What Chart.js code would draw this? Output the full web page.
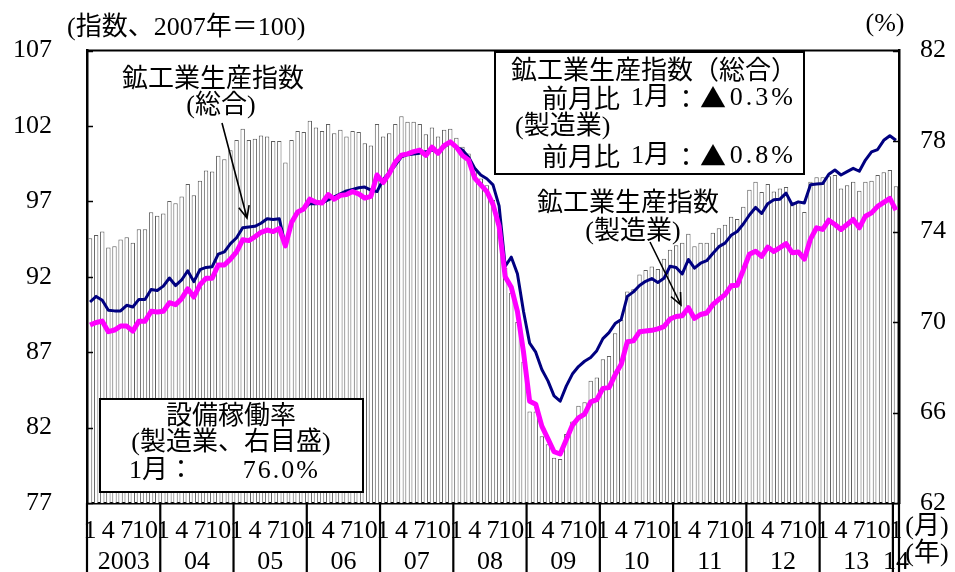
<!DOCTYPE html>
<html lang="ja">
<head>
<meta charset="utf-8">
<title>鉱工業生産指数と設備稼働率</title>
<script src="https://cdn.jsdelivr.net/npm/chart.js@4/dist/chart.umd.min.js"></script>
<style>
html, body { margin: 0; padding: 0; background: #fff; }
#wrap { position: relative; width: 955px; height: 572px; }
canvas { display: block; }
</style>
</head>
<body>
<div id="wrap"><canvas id="c" width="955" height="572"></canvas></div>
<script>
// Year cells under the axis and the months that get a tick label
const years = ['2003', '04', '05', '06', '07', '08', '09', '10', '11', '12', '13', '14'];
const monthTicks = [1, 4, 7, 10];
const leftTicks = [77, 82, 87, 92, 97, 102, 107];
const rightTicks = [62, 66, 70, 74, 78, 82];

// 鉱工業生産指数（総合） 2007年=100, monthly from 2003/1 to 2014/1
const totalIndex = [
  90.33, 90.70, 90.44, 89.78, 89.74, 89.74, 90.11, 90.00, 90.50, 90.50, 91.16, 91.09,
  91.38, 91.92, 91.42, 91.79, 92.40, 91.68, 92.47, 92.62, 92.67, 93.50, 93.65, 94.20,
  94.59, 95.25, 95.30, 95.35, 95.55, 95.85, 95.80, 95.85, 94.05, 95.65, 96.30, 96.55,
  96.85, 96.85, 96.90, 97.10, 97.30, 97.50, 97.70, 97.80, 97.90, 97.95, 97.75, 97.65,
  98.45, 98.90, 99.40, 99.95, 100.10, 100.15, 100.20, 100.30, 100.40, 100.30, 100.60, 100.90,
  100.60, 100.40, 99.95, 99.20, 98.75, 98.50, 98.10, 96.70, 92.70, 93.30, 92.20, 89.70,
  87.60, 87.00, 85.85, 85.10, 84.10, 83.75, 84.75, 85.55, 86.05, 86.40, 86.65, 87.10,
  87.90, 88.30, 88.90, 89.17, 90.70, 91.00, 91.42, 91.70, 91.88, 91.62, 91.90, 92.70,
  92.62, 92.19, 93.15, 92.57, 92.90, 93.07, 93.55, 94.00, 94.23, 94.75, 95.00, 95.50,
  96.10, 96.60, 96.20, 96.85, 97.11, 97.15, 97.55, 96.78, 96.97, 96.89, 98.10, 98.15,
  98.18, 98.80, 99.08, 98.75, 98.97, 99.19, 99.00, 99.74, 100.28, 100.44, 101.05, 101.35,
  101.05
];

// 鉱工業生産指数（製造業） 2007年=100
const mfgIndex = [
  88.80, 88.97, 89.06, 88.36, 88.47, 88.73, 88.73, 88.40, 89.06, 89.06, 89.71, 89.67,
  89.71, 90.28, 90.15, 90.55, 91.20, 90.66, 91.47, 91.90, 91.90, 92.78, 92.78, 93.17,
  93.65, 94.45, 94.40, 94.65, 94.95, 95.10, 95.00, 95.20, 94.05, 95.60, 96.30, 96.50,
  97.15, 96.95, 96.90, 97.45, 97.15, 97.40, 97.45, 97.65, 97.50, 97.22, 97.33, 98.75,
  98.25, 98.85, 99.60, 100.07, 100.15, 100.30, 100.40, 100.05, 100.60, 100.20, 100.70, 100.95,
  100.60, 100.05, 99.75, 98.55, 98.10, 97.65, 96.80, 95.35, 92.00, 91.30, 89.70, 87.00,
  83.75, 83.55, 82.10, 81.25, 80.40, 80.25, 81.20, 82.15, 82.65, 82.90, 83.70, 83.85,
  84.60, 84.65, 85.50, 86.20, 87.70, 87.75, 88.35, 88.40, 88.45, 88.55, 88.70, 89.20,
  89.37, 89.42, 89.95, 89.24, 89.50, 89.60, 90.15, 90.50, 90.82, 91.40, 91.44, 92.45,
  93.50, 93.70, 93.35, 93.97, 93.68, 93.94, 94.20, 93.60, 93.65, 93.17, 94.50, 95.25,
  95.14, 95.75, 95.47, 95.14, 95.47, 95.80, 95.25, 96.02, 96.24, 96.67, 96.94, 97.20,
  96.42
];

// 設備稼働率（製造業、%）
const utilization = [
  73.70, 73.85, 74.00, 73.30, 73.35, 73.65, 73.75, 73.50, 74.10, 74.10, 74.85, 74.70,
  74.80, 75.35, 75.25, 75.55, 76.10, 75.60, 76.25, 76.70, 76.65, 77.35, 77.20, 77.60,
  78.05, 78.55, 78.05, 78.10, 78.25, 78.20, 78.00, 78.00, 77.05, 78.05, 78.45, 78.40,
  78.90, 78.60, 78.45, 78.75, 78.35, 78.50, 78.20, 78.45, 78.40, 77.90, 77.80, 78.75,
  78.20, 78.35, 78.75, 79.10, 78.85, 78.85, 78.75, 78.30, 78.60, 78.20, 78.50, 78.55,
  78.15, 77.75, 77.45, 76.80, 76.35, 76.05, 75.40, 74.40, 72.40, 71.30, 70.00, 68.25,
  66.05, 66.05, 64.95, 64.60, 64.00, 63.95, 65.05, 65.60, 66.30, 66.45, 67.40, 67.55,
  68.35, 68.50, 69.50, 70.10, 71.35, 71.45, 72.10, 72.30, 72.45, 72.35, 72.80, 73.20,
  73.40, 73.50, 73.90, 73.35, 73.50, 73.50, 73.95, 74.15, 74.30, 74.65, 74.55, 75.10,
  75.85, 76.20, 75.75, 76.10, 75.77, 75.90, 75.97, 75.30, 75.30, 74.87, 76.20, 76.40,
  76.40, 76.45, 76.50, 75.90, 76.05, 76.20, 75.80, 76.20, 76.25, 76.50, 76.62, 76.72,
  76.0
];

// Category labels "YYYY/M" built from the year list
const labels = [];
const monthOf = [];
years.forEach(y => {
  const full = y.length === 4 ? y : '20' + y;
  for (let m = 1; m <= 12 && labels.length < totalIndex.length; m++) {
    labels.push(full + '/' + m);
    monthOf.push(m);
  }
});

const FS = 26;
const FONT = "'Liberation Serif', 'Noto Sans CJK JP', serif";
const SERIF = FS + "px 'Liberation Serif', 'Noto Sans CJK JP', serif";
const CJK = FS + "px 'Noto Sans CJK JP', sans-serif";

function txt(ctx, s, x, y, align, font) {
  ctx.font = font || SERIF;
  ctx.textAlign = align || 'left';
  ctx.textBaseline = 'middle';
  ctx.fillText(s, x, y);
}

function arrow(ctx, x1, y1, x2, y2) {
  const ang = Math.atan2(y2 - y1, x2 - x1);
  const len = 13, spread = 0.42;
  ctx.beginPath();
  ctx.moveTo(x1, y1);
  ctx.lineTo(x2, y2);
  ctx.moveTo(x2 - len * Math.cos(ang - spread), y2 - len * Math.sin(ang - spread));
  ctx.lineTo(x2, y2);
  ctx.lineTo(x2 - len * Math.cos(ang + spread), y2 - len * Math.sin(ang + spread));
  ctx.stroke();
}

// one "前月比 1月：▲x%" row of the summary box
function changeRow(ctx, pct, y) {
  txt(ctx, '前月比', 542, y, 'left', CJK);
  txt(ctx, '1月', 631, y, 'left', SERIF);
  txt(ctx, '：', 686, y, 'center', CJK);
  txt(ctx, '▲', 700, y, 'left', CJK);
  ctx.letterSpacing = '3px';
  txt(ctx, pct, 796, y, 'right', SERIF);
  ctx.letterSpacing = '0px';
}

const decor = {
  id: 'decor',
  afterDraw(chart) {
    const { ctx, chartArea: a, scales } = chart;
    const x = scales.x, yL = scales.y, yR = scales.yR;
    const n = labels.length;
    ctx.save();
    ctx.strokeStyle = '#000';
    ctx.fillStyle = '#000';

    // top edge of the frame
    ctx.lineWidth = 2;
    ctx.beginPath();
    ctx.moveTo(a.left, a.top); ctx.lineTo(a.right, a.top);
    ctx.stroke();

    // inward tick marks on both value axes
    ctx.lineWidth = 1.5;
    leftTicks.forEach(v => {
      const py = Math.round(yL.getPixelForValue(v)) + 0.5;
      ctx.beginPath(); ctx.moveTo(a.left, py); ctx.lineTo(a.left + 6, py); ctx.stroke();
    });
    rightTicks.forEach(v => {
      const py = Math.round(yR.getPixelForValue(v)) + 0.5;
      ctx.beginPath(); ctx.moveTo(a.right, py); ctx.lineTo(a.right - 6, py); ctx.stroke();
    });

    // year cells below the axis
    const band = x.getPixelForValue(1) - x.getPixelForValue(0);
    ctx.lineWidth = 2.2;
    for (let k = 0; k <= years.length; k++) {
      const idx = k * 12;
      const px = idx < n ? x.getPixelForValue(idx) - band / 2 : x.getPixelForValue(n - 1) + band / 2;
      ctx.beginPath(); ctx.moveTo(px, a.bottom); ctx.lineTo(px, chart.height); ctx.stroke();
    }
    years.forEach((y, k) => {
      const i0 = k * 12, i1 = Math.min(k * 12 + 11, n - 1);
      const cx = (x.getPixelForValue(i0) + x.getPixelForValue(i1)) / 2;
      txt(ctx, y, cx, 562, 'center');
    });
    txt(ctx, '(月)', 927, 527, 'center');
    txt(ctx, '(年)', 927, 554, 'center');

    // axis captions
    txt(ctx, '(指数、2007年＝100)', 67, 28, 'left');
    txt(ctx, '(%)', 885, 24, 'center');

    // summary box, upper right
    ctx.lineWidth = 2;
    ctx.fillStyle = '#fff';
    ctx.fillRect(495, 52, 309, 122);
    ctx.strokeRect(495, 52, 309, 122);
    ctx.fillStyle = '#000';
    txt(ctx, '鉱工業生産指数（総合）', 511, 69, 'left', CJK);
    changeRow(ctx, '0.3%', 98);
    txt(ctx, '(製造業)', 515, 127, 'left');
    changeRow(ctx, '0.8%', 156);

    // utilization box, lower left
    ctx.fillStyle = '#fff';
    ctx.fillRect(100, 399, 263, 93);
    ctx.strokeRect(100, 399, 263, 93);
    ctx.fillStyle = '#000';
    txt(ctx, '設備稼働率', 231, 414, 'center', CJK);
    txt(ctx, '(製造業、右目盛)', 231, 443, 'center');
    txt(ctx, '1月：', 129, 471, 'left');
    ctx.letterSpacing = '2px';
    txt(ctx, '76.0%', 320, 471, 'right');
    ctx.letterSpacing = '0px';

    // series callouts
    txt(ctx, '鉱工業生産指数', 213, 77, 'center', CJK);
    txt(ctx, '(総合)', 221, 106, 'center');
    txt(ctx, '鉱工業生産指数', 628, 201, 'center', CJK);
    txt(ctx, '(製造業)', 633, 232, 'center');
    ctx.lineWidth = 1.6;
    arrow(ctx, 222, 123, 247, 218);
    arrow(ctx, 650, 242, 681, 305);

    ctx.restore();
  }
};

new Chart(document.getElementById('c'), {
  data: {
    labels: labels,
    datasets: [
      {
        type: 'line', label: '鉱工業生産指数（製造業）', data: mfgIndex, yAxisID: 'y',
        borderColor: '#ff00ff', borderWidth: 5, pointRadius: 0, tension: 0,
        borderJoinStyle: 'round', order: 0
      },
      {
        type: 'line', label: '鉱工業生産指数（総合）', data: totalIndex, yAxisID: 'y',
        borderColor: '#000080', borderWidth: 3, pointRadius: 0, tension: 0,
        borderJoinStyle: 'round', order: 1
      },
      {
        type: 'bar', label: '設備稼働率（製造業）', data: utilization, yAxisID: 'yR',
        backgroundColor: '#ffffff', borderColor: '#5e5e5e', borderWidth: 1,
        barPercentage: 0.72, categoryPercentage: 1.0, order: 2
      }
    ]
  },
  options: {
    responsive: false,
    animation: false,
    layout: { padding: { top: 46, left: 0, right: 0, bottom: 0 } },
    plugins: { legend: { display: false }, tooltip: { enabled: false } },
    scales: {
      x: {
        type: 'category', offset: true,
        grid: { display: false },
        border: { display: true, color: '#000', width: 2.5 },
        ticks: {
          autoSkip: false, maxRotation: 0, minRotation: 0, padding: 5,
          color: '#000', font: { family: FONT, size: FS },
          callback: (v, i) => monthTicks.includes(monthOf[i]) ? String(monthOf[i]) : ''
        },
        afterFit: s => { s.height = 69; }
      },
      y: {
        position: 'left', min: 77, max: 107,
        grid: { display: false, drawTicks: false },
        border: { display: true, color: '#000', width: 2.5 },
        ticks: { stepSize: 5, padding: 35, color: '#000', font: { family: FONT, size: FS } },
        afterFit: s => { s.width = 87; }
      },
      yR: {
        position: 'right', min: 62, max: 82,
        grid: { display: false, drawTicks: false },
        border: { display: true, color: '#000', width: 2.5 },
        ticks: { stepSize: 4, padding: 21, color: '#000', font: { family: FONT, size: FS } },
        afterFit: s => { s.width = 56; }
      }
    }
  },
  plugins: [decor]
});
</script>
</body>
</html>
